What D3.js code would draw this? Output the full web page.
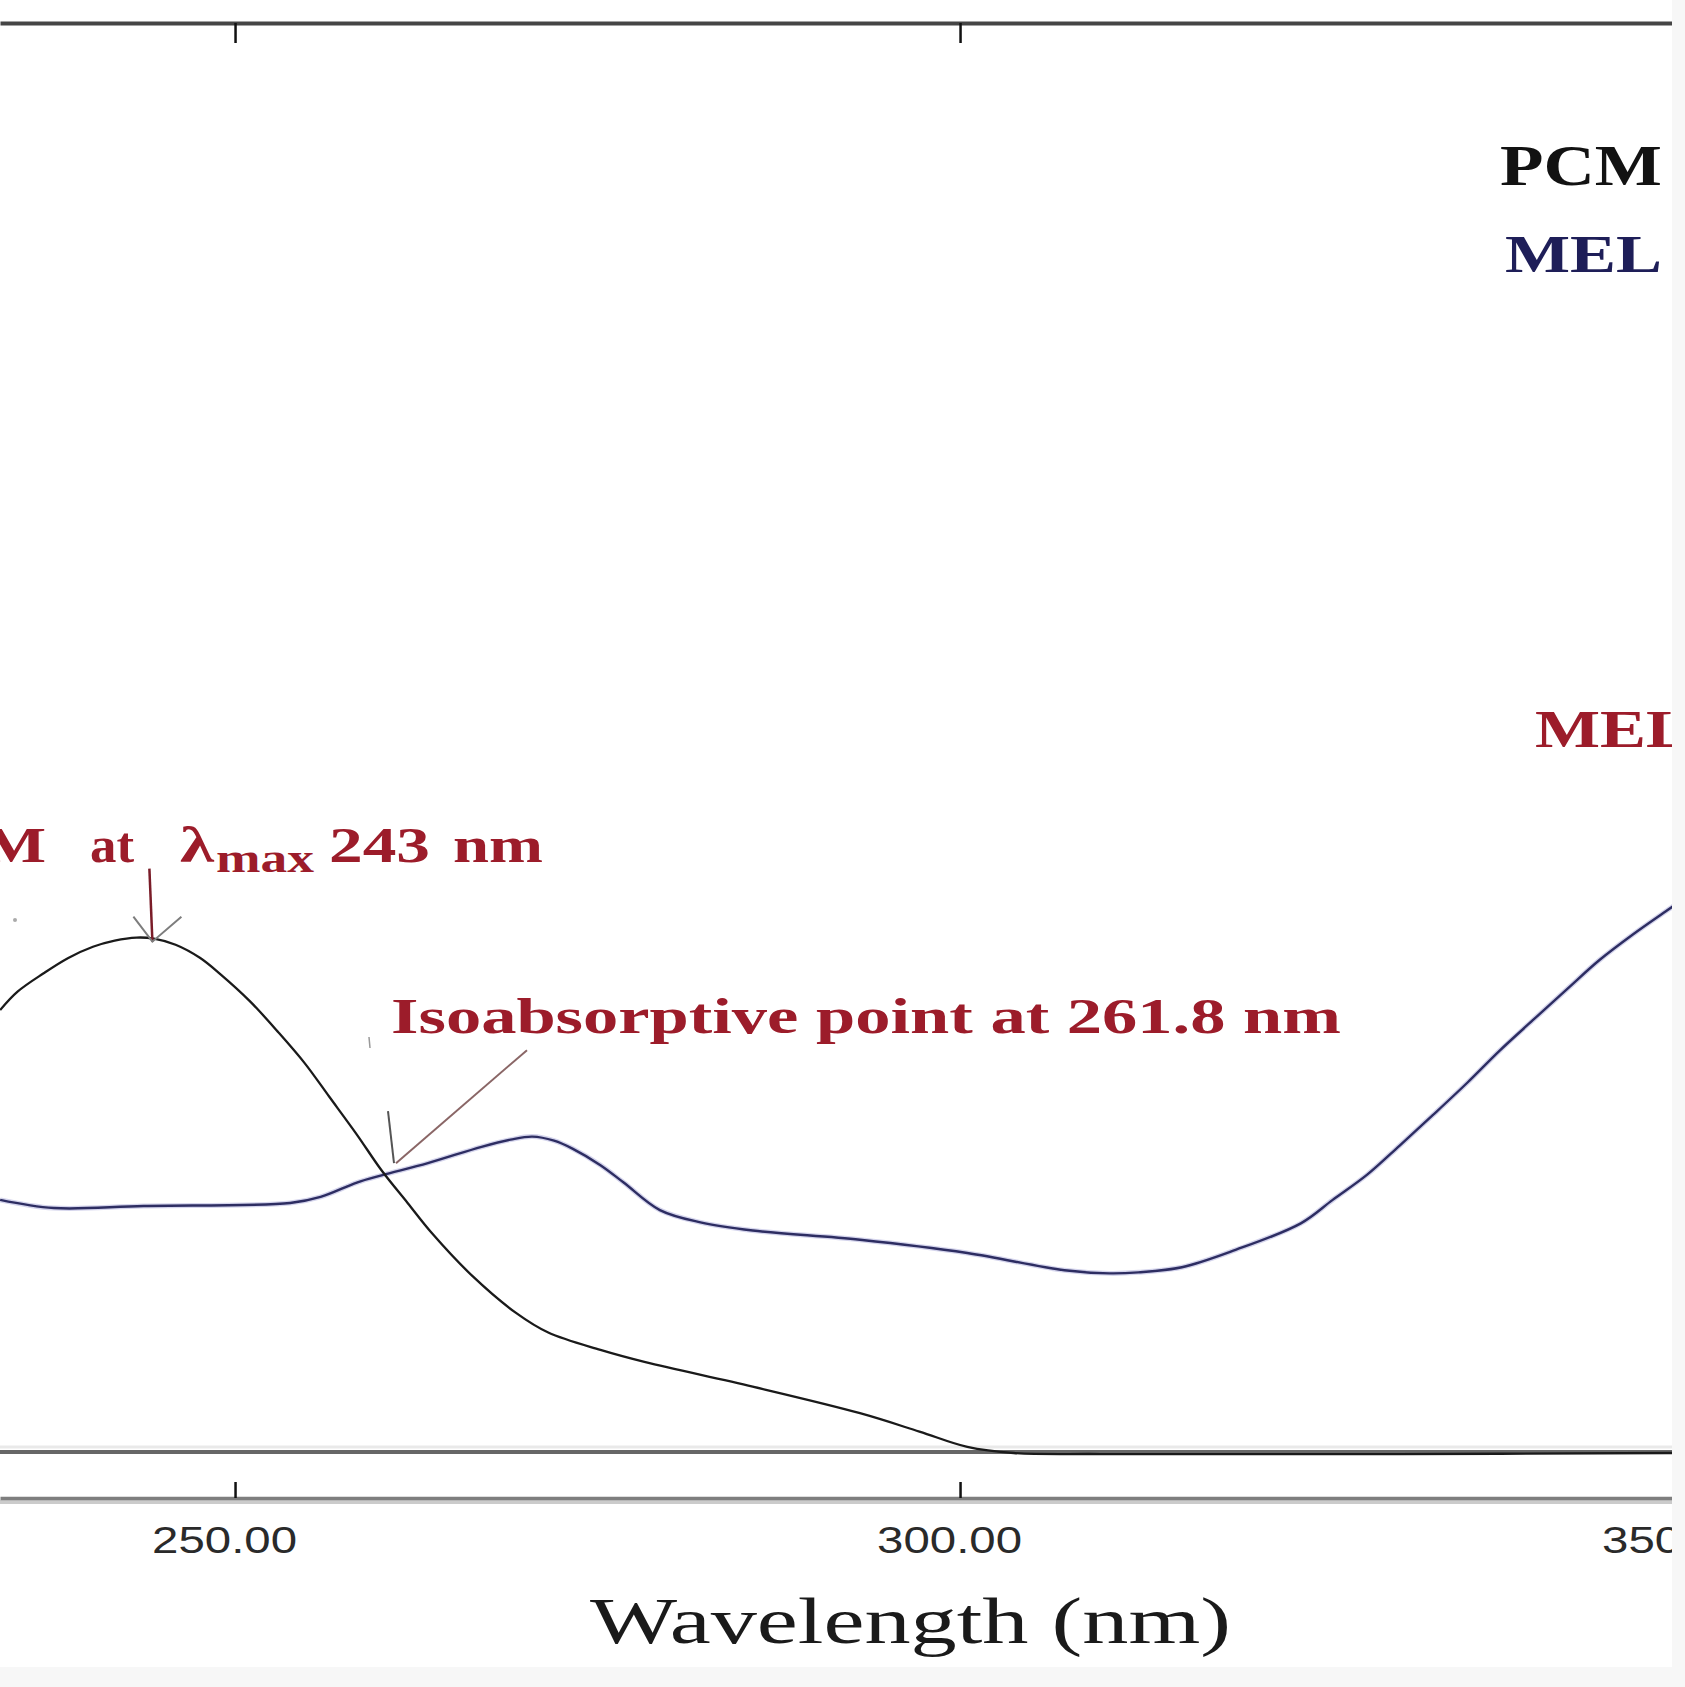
<!DOCTYPE html>
<html><head><meta charset="utf-8">
<script src="https://cdn.jsdelivr.net/npm/d3@7"></script>
<style>
html,body{margin:0;padding:0;background:#f7f7f7;}
svg{display:block;}
</style></head><body>
<svg id="chart" width="1685" height="1687"></svg>
<script>
// ---- data ----
const pcmWavelength = [233.8,235.0,236.8,238.5,240.2,241.7,243.2,244.4,245.9,247.6,249.0,251.0,253.0,254.8,256.5,258.4,260.1,261.9,263.6,266.4,269.4,271.6,275.2,278.3,285.7,293.1,297.2,300.5,303.7,309.7,330.3,349.1,350.0];
const pcmAbsorbance = [0.433,0.451,0.469,0.484,0.495,0.501,0.504,0.503,0.497,0.484,0.468,0.442,0.411,0.381,0.348,0.311,0.276,0.244,0.214,0.172,0.136,0.117,0.100,0.088,0.064,0.038,0.020,0.005,-0.001,-0.002,-0.002,-0.001,-0.001];
const melWavelength = [233.8,237.5,243.7,253.8,255.9,258.4,260.1,263.3,267.0,269.0,270.5,272.0,273.3,275.2,276.8,279.3,282.1,285.7,293.1,300.5,307.2,310.3,312.3,315.3,319.0,323.5,325.7,328.1,330.3,332.6,335.0,337.2,339.5,341.9,344.1,346.4,348.8,350.0];
const melAbsorbance = [0.247,0.239,0.241,0.244,0.250,0.264,0.271,0.283,0.299,0.306,0.309,0.305,0.297,0.281,0.264,0.237,0.225,0.217,0.208,0.195,0.178,0.175,0.176,0.181,0.198,0.224,0.247,0.272,0.300,0.330,0.362,0.393,0.423,0.454,0.482,0.507,0.531,0.543];
const xTickValues = [250, 300, 350];
const xTickLabels = ["250.00", "300.00", "350.00"];
const topTickValues = [250, 300];
const seriesNames = ["PCM", "MEL"];
const xTitle = "Wavelength (nm)";
const pcmNote = ["PCM", "at", "λ", "max", "243", "nm"];
const pcmPeak = [244.3, 0.50];
const isoNote = "Isoabsorptive point at 261.8 nm";
const isoPoint = [261.1, 0.283];

// ---- layout ----
const plotW = 1672, plotH = 1667;
const svg = d3.select("#chart");
svg.append("rect").attr("width", plotW).attr("height", plotH).attr("fill", "#ffffff");
svg.append("defs").append("clipPath").attr("id", "clip")
  .append("rect").attr("width", plotW).attr("height", plotH);
const g = svg.append("g").attr("clip-path", "url(#clip)");

const x = d3.scaleLinear().domain([233.79, 349.1]).range([0, plotW]);
const y = d3.scaleLinear().domain([0, 1.4]).range([1452, 23]);

// top frame axis
const topAxis = g.append("g").attr("transform", `translate(0,${y(1.4)})`)
  .call(d3.axisTop(x).tickValues(topTickValues).tickSizeInner(-20).tickSizeOuter(0).tickFormat(""));
topAxis.select(".domain").attr("stroke", "#454545").attr("stroke-width", 4);
topAxis.selectAll(".tick line").attr("stroke", "#111").attr("stroke-width", 2.5);

// zero baseline
g.append("line").attr("x1", x.range()[0]).attr("x2", x.range()[1])
  .attr("y1", y(0) - 5).attr("y2", y(0) - 5).attr("stroke", "#e9e9e9").attr("stroke-width", 3);
g.append("line").attr("x1", x.range()[0]).attr("x2", x.range()[1])
  .attr("y1", y(0)).attr("y2", y(0)).attr("stroke", "#676767").attr("stroke-width", 4);

// bottom axis
const axisY = 1498;
g.append("line").attr("x1", 0).attr("x2", plotW).attr("y1", axisY + 4).attr("y2", axisY + 4)
  .attr("stroke", "#cbcbcb").attr("stroke-width", 4);
const bottomAxis = g.append("g").attr("transform", `translate(0,${axisY})`)
  .call(d3.axisBottom(x).tickValues(xTickValues).tickSizeInner(-16).tickSizeOuter(0)
    .tickFormat((d, i) => xTickLabels[i]));
bottomAxis.select(".domain").attr("stroke", "#7e7e7e").attr("stroke-width", 3.5);
bottomAxis.selectAll(".tick line").attr("stroke", "#111").attr("stroke-width", 2.5);
bottomAxis.selectAll(".tick text")
  .attr("y", 55).attr("dy", 0).attr("dx", -11)
  .attr("fill", "#2a2a2a").attr("font-family", "Liberation Sans, Arial, sans-serif")
  .attr("font-size", 36).attr("textLength", 145).attr("lengthAdjust", "spacingAndGlyphs");

// curves
const line = d3.line().x(d => x(d[0])).y(d => y(d[1])).curve(d3.curveCatmullRom.alpha(0.5));
const pcmData = pcmWavelength.map((w, i) => [w, pcmAbsorbance[i]]);
const melData = melWavelength.map((w, i) => [w, melAbsorbance[i]]);
g.append("path").datum(melData).attr("d", line).attr("fill", "none")
  .attr("stroke", "#d4d4ec").attr("stroke-width", 5);
g.append("path").datum(melData).attr("d", line).attr("fill", "none")
  .attr("stroke", "#2d2d62").attr("stroke-width", 2.4);
g.append("path").datum(pcmData).attr("d", line).attr("fill", "none")
  .attr("stroke", "#1a1a1a").attr("stroke-width", 2.3);

// legend
const serif = "Liberation Serif, Times New Roman, serif";
g.append("text").text(seriesNames[0]).attr("x", 1500).attr("y", 185)
  .attr("font-family", serif).attr("font-weight", "bold").attr("font-size", 57)
  .attr("textLength", 162).attr("lengthAdjust", "spacingAndGlyphs").attr("fill", "#121212");
g.append("text").text(seriesNames[1]).attr("x", 1505).attr("y", 272)
  .attr("font-family", serif).attr("font-weight", "bold").attr("font-size", 53)
  .attr("textLength", 157).attr("lengthAdjust", "spacingAndGlyphs").attr("fill", "#1e1e58");

// red labels
const red = "#9c1c2a";
g.append("text").text(seriesNames[1]).attr("x", 1535).attr("y", 747)
  .attr("font-family", serif).attr("font-weight", "bold").attr("font-size", 53)
  .attr("textLength", 157).attr("lengthAdjust", "spacingAndGlyphs").attr("fill", red);

const notePieces = [
  {t: pcmNote[0], x: -105, y: 862, fs: 51, len: 151},
  {t: pcmNote[1], x: 90, y: 862, fs: 51, len: 44},
  {t: pcmNote[2], x: 180, y: 862, fs: 51, len: 34},
  {t: pcmNote[3], x: 216, y: 872, fs: 40, len: 98},
  {t: pcmNote[4], x: 329, y: 862, fs: 51, len: 101},
  {t: pcmNote[5], x: 453, y: 862, fs: 51, len: 90}
];
g.selectAll("text.note").data(notePieces).enter().append("text").attr("class", "note")
  .text(d => d.t).attr("x", d => d.x).attr("y", d => d.y)
  .attr("font-family", serif).attr("font-weight", "bold").attr("font-size", d => d.fs)
  .attr("textLength", d => d.len).attr("lengthAdjust", "spacingAndGlyphs").attr("fill", red);

g.append("text").text(isoNote).attr("x", 391).attr("y", 1033)
  .attr("font-family", serif).attr("font-weight", "bold").attr("font-size", 50)
  .attr("textLength", 950).attr("lengthAdjust", "spacingAndGlyphs").attr("fill", red);

// arrows
const tip1 = [x(pcmPeak[0]), y(pcmPeak[1])];
g.append("line").attr("x1", tip1[0] - 3).attr("y1", tip1[1] - 73).attr("x2", tip1[0]).attr("y2", tip1[1])
  .attr("stroke", "#7a1c28").attr("stroke-width", 2.5);
g.append("path").attr("d", `M${tip1[0] - 19},${tip1[1] - 25}L${tip1[0]},${tip1[1]}L${tip1[0] + 29},${tip1[1] - 25}`)
  .attr("fill", "none").attr("stroke", "#7d7d7d").attr("stroke-width", 2);

const tip2 = [x(isoPoint[0]), y(isoPoint[1])];
g.append("line").attr("x1", tip2[0] + 131).attr("y1", tip2[1] - 113).attr("x2", tip2[0]).attr("y2", tip2[1])
  .attr("stroke", "#8a6666").attr("stroke-width", 2);
g.append("line").attr("x1", tip2[0] - 8).attr("y1", tip2[1] - 52).attr("x2", tip2[0] - 2).attr("y2", tip2[1])
  .attr("stroke", "#555").attr("stroke-width", 2);

// small stray marks seen in the picture
g.append("line").attr("x1", 369).attr("y1", 1037).attr("x2", 370).attr("y2", 1048)
  .attr("stroke", "#999").attr("stroke-width", 1.5);
g.append("circle").attr("cx", 15).attr("cy", 920).attr("r", 2).attr("fill", "#aaa");

// axis title
svg.append("text").text(xTitle).attr("x", 590).attr("y", 1643)
  .attr("font-family", serif).attr("font-size", 65)
  .attr("textLength", 641).attr("lengthAdjust", "spacingAndGlyphs").attr("fill", "#1a1a1a");
</script>
</body></html>
